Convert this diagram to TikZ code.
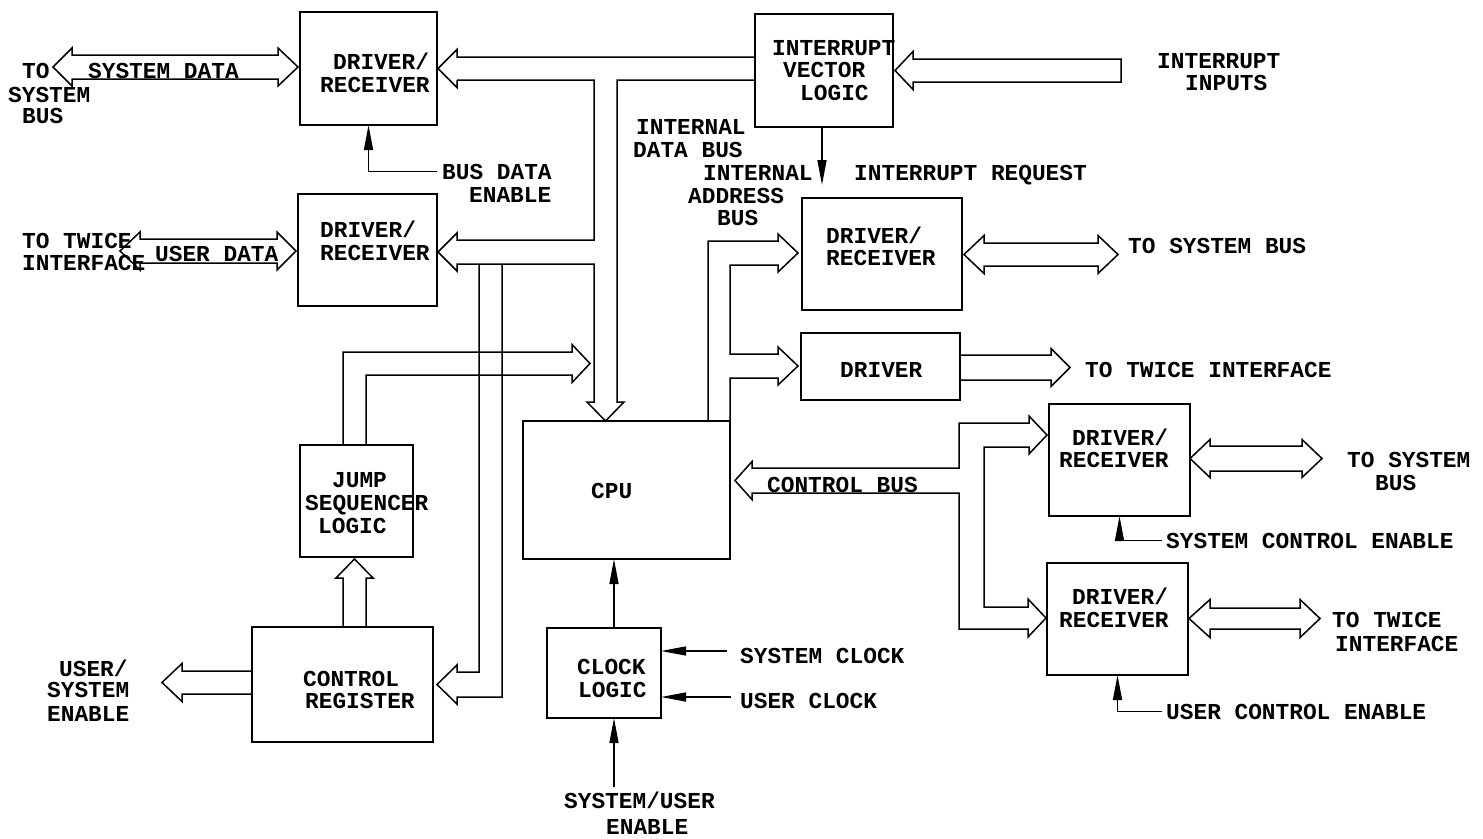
\documentclass[tikz,border=0pt]{standalone}
\usepackage{fontspec}
\newfontfamily\plotfont{Liberation Mono}
\usetikzlibrary{arrows.meta,calc}

\tikzset{
  box/.style={draw, line width=1.5pt, inner sep=0pt, outer sep=0pt},
  lbl/.style={font=\plotfont\bfseries\fontsize{22.8}{23}\selectfont, inner sep=0pt, anchor=base west},
  bus/.style={line width=1.5pt, line join=miter},
  sig/.style={line width=1.5pt, -{Triangle[length=25pt,width=9pt]}},
}

\begin{document}
\begin{tikzpicture}[x=1pt,y=-1pt]
\fill[white] (0,0) rectangle (1483,838);
\useasboundingbox (0,0) rectangle (1483,838);

% ---------- function blocks ----------
\node[box, minimum width=137pt, minimum height=113pt] (dr1) at (368.5,68.5) {};
\node[box, minimum width=139pt, minimum height=112pt] (dr2) at (367.5,250) {};
\node[box, minimum width=138pt, minimum height=113pt] (ivl) at (824,70.5) {};
\node[box, minimum width=160pt, minimum height=112pt] (dr3) at (882,254) {};
\node[box, minimum width=159pt, minimum height=67pt]  (drv) at (880.5,366.5) {};
\node[box, minimum width=141pt, minimum height=112pt] (dr4) at (1119.5,460) {};
\node[box, minimum width=141pt, minimum height=112pt] (dr5) at (1117.5,619) {};
\node[box, minimum width=207pt, minimum height=138pt] (cpu) at (626.5,490) {};
\node[box, minimum width=113pt, minimum height=112pt] (jsl) at (356.5,501) {};
\node[box, minimum width=181pt, minimum height=115pt] (cr)  at (342.5,684.5) {};
\node[box, minimum width=114pt, minimum height=90pt]  (clk) at (604,673) {};

% ---------- block captions ----------
\node[lbl] (dr1a) at (333,69) {DRIVER/};
\node[lbl] (dr1b) at (320,92) {RECEIVER};
\node[lbl] (dr2a) at (320,237) {DRIVER/};
\node[lbl] (dr2b) at (320,260) {RECEIVER};
\node[lbl] (ivla) at (772,55) {INTERRUPT};
\node[lbl] (ivlb) at (783,77) {VECTOR};
\node[lbl] (ivlc) at (800,100) {LOGIC};
\node[lbl] (dr3a) at (826,243) {DRIVER/};
\node[lbl] (dr3b) at (826,265) {RECEIVER};
\node[lbl] (drva) at (840,377) {DRIVER};
\node[lbl] (dr4a) at (1072,445) {DRIVER/};
\node[lbl] (dr4b) at (1059,467) {RECEIVER};
\node[lbl] (dr5a) at (1072,604) {DRIVER/};
\node[lbl] (dr5b) at (1059,627) {RECEIVER};
\node[lbl] (cpua) at (591,498) {CPU};
\node[lbl] (jsla) at (332,487) {JUMP};
\node[lbl] (jslb) at (305,510) {SEQUENCER};
\node[lbl] (jslc) at (318,533) {LOGIC};
\node[lbl] (cra)  at (303,686) {CONTROL};
\node[lbl] (crb)  at (305,708) {REGISTER};
\node[lbl] (clka) at (577,674) {CLOCK};
\node[lbl] (clkb) at (578,697) {LOGIC};

% ---------- signal and bus names ----------
\node[lbl] (tsb1) at (22,78) {TO};
\node[lbl] (tsb2) at (8,102) {SYSTEM};
\node[lbl] (tsb3) at (22,123) {BUS};
\node[lbl] (sdat) at (88,78) {SYSTEM DATA};
\node[lbl] (bde1) at (442,179) {BUS DATA};
\node[lbl] (bde2) at (469,202) {ENABLE};
\node[lbl] (ttw1) at (22,248) {TO TWICE};
\node[lbl] (ttw2) at (22,270) {INTERFACE};
\node[lbl] (udat) at (155,261) {USER DATA};
\node[lbl] (idb1) at (636,134) {INTERNAL};
\node[lbl] (idb2) at (633,157) {DATA BUS};
\node[lbl] (iab1) at (703,180) {INTERNAL};
\node[lbl] (iab2) at (688,203) {ADDRESS};
\node[lbl] (iab3) at (717,225) {BUS};
\node[lbl] (ireq) at (854,180) {INTERRUPT REQUEST};
\node[lbl] (iin1) at (1157,68) {INTERRUPT};
\node[lbl] (iin2) at (1185,90) {INPUTS};
\node[lbl] (tsb)  at (1128,253) {TO SYSTEM BUS};
\node[lbl] (tti)  at (1085,377) {TO TWICE INTERFACE};
\node[lbl] (ts4a) at (1347,467) {TO SYSTEM};
\node[lbl] (ts4b) at (1375,490) {BUS};
\node[lbl] (cbus) at (767,492) {CONTROL BUS};
\node[lbl] (sce)  at (1166,548) {SYSTEM CONTROL ENABLE};
\node[lbl] (tt5a) at (1332,627) {TO TWICE};
\node[lbl] (tt5b) at (1335,651) {INTERFACE};
\node[lbl] (uce)  at (1166,719) {USER CONTROL ENABLE};
\node[lbl] (sclk) at (740,663) {SYSTEM CLOCK};
\node[lbl] (uclk) at (740,708) {USER CLOCK};
\node[lbl] (use1) at (59,676) {USER/};
\node[lbl] (use2) at (47,697) {SYSTEM};
\node[lbl] (use3) at (47,721) {ENABLE};
\node[lbl] (sue1) at (564,808) {SYSTEM/USER};
\node[lbl] (sue2) at (606,834) {ENABLE};

% ---------- wide bus arrows (outlined) ----------
% system data, both ways
\draw[bus] (72,55) -- (278,55) -- (278,48) -- (298,67) -- (278,86) -- (278,79)
  -- (72,79) -- (72,86) -- (53,67) -- (72,48) -- cycle;
% user data, both ways
\draw[bus] (140,239) -- (277,239) -- (277,232) -- (296,251) -- (277,270) -- (277,263)
  -- (140,263) -- (140,270) -- (120,251) -- (140,232) -- cycle;
% internal data bus: top run into the upper driver/receiver
\draw[bus] (755,57) -- (457,57) -- (457,49.5) -- (438,68.5) -- (457,87.5) -- (457,80);
% internal data bus: branches and trunk down to the CPU
\draw[bus] (457,80) -- (594,80) -- (594,240) -- (457,240) -- (457,233) -- (438,252)
  -- (457,271) -- (457,264) -- (594,264) -- (594,402) -- (587,402) -- (605.5,421)
  -- (624,402) -- (617,402) -- (617,80) -- (755,80);
% internal data bus: branch down to the control register
\draw[bus] (479,264) -- (479,672) -- (457,672) -- (457,665) -- (437,684.5) -- (457,704)
  -- (457,697) -- (502,697) -- (502,264);
% jump sequencer output
\draw[bus] (343,445) -- (343,352) -- (572,352) -- (572,344.5) -- (590,363.5)
  -- (572,382.5) -- (572,375) -- (366,375) -- (366,445);
% control register to jump sequencer
\draw[bus] (343,627) -- (343,578) -- (336,578) -- (354.5,559) -- (373,578)
  -- (366,578) -- (366,627);
% control register to user/system enable
\draw[bus] (252,671) -- (182,671) -- (182,663.5) -- (162,682.5) -- (182,701.5)
  -- (182,694) -- (252,694);
% internal address bus
\draw[bus] (708,421) -- (708,241) -- (778,241) -- (778,234) -- (798,253) -- (778,272)
  -- (778,265) -- (730,265) -- (730,354) -- (778,354) -- (778,347) -- (798,366)
  -- (778,385) -- (778,378) -- (730,378) -- (730,421);
% driver/receiver to system bus, both ways
\draw[bus] (984,243) -- (1098,243) -- (1098,235.5) -- (1118,254.5) -- (1098,273.5)
  -- (1098,266) -- (984,266) -- (984,273.5) -- (964,254.5) -- (984,235.5) -- cycle;
% driver to twice interface
\draw[bus] (960,355) -- (1051,355) -- (1051,348.5) -- (1070,367.5) -- (1051,386.5)
  -- (1051,380) -- (960,380);
% control bus
\draw[bus] (752,468) -- (959,468) -- (959,423) -- (1029,423) -- (1029,416) -- (1047,435)
  -- (1029,454) -- (1029,447) -- (984,447) -- (984,607) -- (1028,607) -- (1028,599)
  -- (1046,618) -- (1028,637) -- (1028,629) -- (959,629) -- (959,493) -- (752,493)
  -- (752,499.5) -- (735,480.5) -- (752,461.5) -- cycle;
% system control driver/receiver to system bus, both ways
\draw[bus] (1210,446) -- (1302,446) -- (1302,439.5) -- (1322,458.5) -- (1302,477.5)
  -- (1302,471) -- (1210,471) -- (1210,477.5) -- (1190,458.5) -- (1210,439.5) -- cycle;
% user control driver/receiver to twice interface, both ways
\draw[bus] (1210,608) -- (1300,608) -- (1300,599.5) -- (1320,618.5) -- (1300,637.5)
  -- (1300,629) -- (1210,629) -- (1210,637.5) -- (1189,618.5) -- (1210,599.5) -- cycle;
% interrupt inputs
\draw[bus] (1121,59) -- (913,59) -- (913,51.5) -- (895,70.5) -- (913,89.5) -- (913,82)
  -- (1121,82) -- cycle;

% ---------- single control lines ----------
\coordinate (irq) at (822,185);
\draw[sig] (irq |- ivl.south) -- (irq);
\draw[sig] ($(bde1.west)+(-5,0)$) -| (dr1.south);
\draw[sig] ($(sce.west)+(-4,0)$) -| (dr4.south);
\draw[sig] ($(uce.west)+(-4,0)$) -| (dr5.south);
\coordinate (sclkin) at (727,651);
\coordinate (uclkin) at (731,697);
\draw[sig] (sclkin) -- (sclkin -| clk.east);
\draw[sig] (uclkin) -- (uclkin -| clk.east);
\coordinate (clkx) at (614,787);
\draw[sig] (clkx |- clk.north) -- (clkx |- cpu.south);
\draw[sig] (clkx) -- (clkx |- clk.south);
\end{tikzpicture}
\end{document}
